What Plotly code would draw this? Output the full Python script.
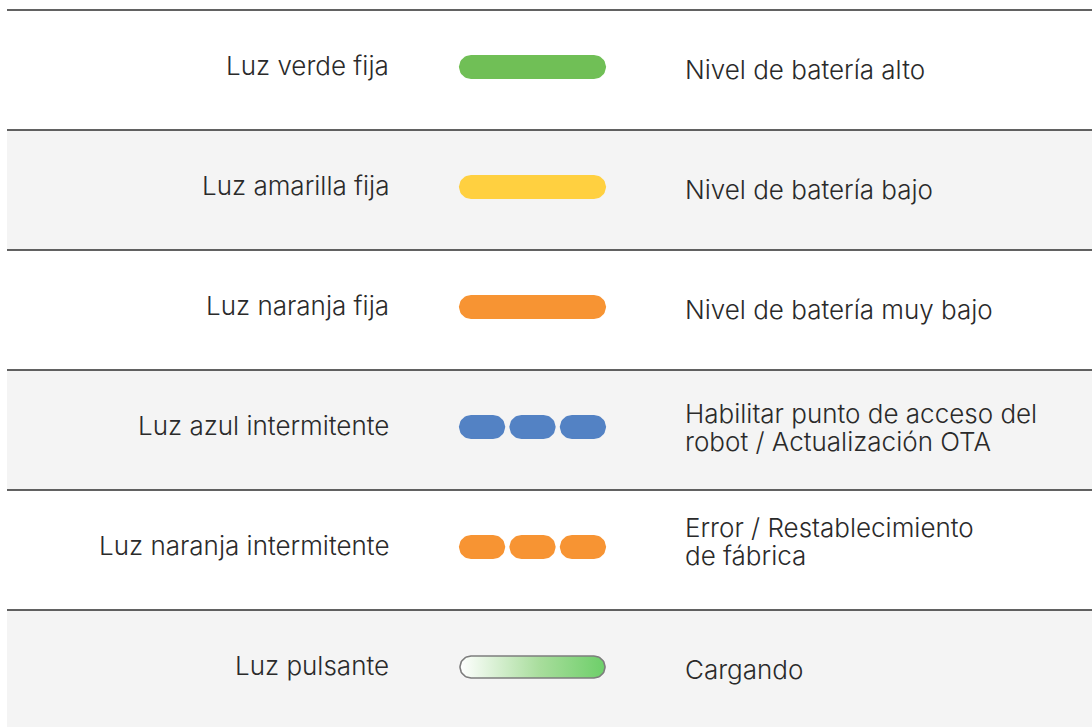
import numpy as np
import plotly.graph_objects as go

# ---- data ----
left_labels = ["Luz verde fija", "Luz amarilla fija", "Luz naranja fija",
               "Luz azul intermitente", "Luz naranja intermitente", "Luz pulsante"]
right_labels = ["Nivel de batería alto", "Nivel de batería bajo", "Nivel de batería muy bajo",
                "Habilitar punto de acceso del<br>robot / Actualización OTA",
                "Error / Restablecimiento<br>de fábrica", "Cargando"]
light_colors = ["#70bf56", "#ffd040", "#f79433", "#5382c4", "#f79433", "#6dcf69"]
light_modes = ["fija", "fija", "fija", "intermitente", "intermitente", "pulsante"]

# ---- geometry (screen pixels) ----
W, H = 1092, 727
LINE_X0 = 7
TOP = 10          # first divider
ROW_H = 120
BAR_X0, BAR_X1 = 459, 606
BAR_H = 24
GAP = 4.3
TEXT_L_X = 391
TEXT_R_X = 683
LINE_SP = 28
FONT = "Inter, Roboto, sans-serif"
FSIZE = 26
TXT = "#2a2a2a"

n = len(left_labels)
PX = 1.0 / ROW_H  # one pixel in y units
y_top = -TOP * PX
y_bot = (H - TOP) * PX


def stadium(x0, x1, yc, r_px):
    r_y = r_px * PX
    a1 = np.linspace(-np.pi / 2, np.pi / 2, 24)
    xs_r = (x1 - r_px) + r_px * np.cos(a1)
    ys_r = yc + r_y * np.sin(a1)
    a2 = np.linspace(np.pi / 2, 3 * np.pi / 2, 24)
    xs_l = (x0 + r_px) + r_px * np.cos(a2)
    ys_l = yc + r_y * np.sin(a2)
    xs = np.concatenate([xs_r, xs_l, xs_r[:1]])
    ys = np.concatenate([ys_r, ys_l, ys_r[:1]])
    return xs, ys


fig = go.Figure()
shapes = []
annotations = []
font = dict(family=FONT, size=FSIZE, color=TXT, weight=300)

for i in range(n):
    if i % 2 == 1:
        y1 = i + 1 if i < n - 1 else y_bot
        shapes.append(dict(type="rect", xref="x", yref="y", x0=LINE_X0, x1=W,
                           y0=i, y1=y1, fillcolor="#f4f4f4", line_width=0, layer="below"))
    shapes.append(dict(type="line", xref="x", yref="y", x0=LINE_X0, x1=W, y0=i, y1=i,
                       line=dict(color="#2e2e2e", width=1.3)))

    yc = i + 0.5 - 3 * PX
    mode = light_modes[i]
    col = light_colors[i]
    if mode == "fija":
        xs, ys = stadium(BAR_X0, BAR_X1, yc, BAR_H / 2)
        fig.add_trace(go.Scatter(x=xs, y=ys, mode="lines", fill="toself", fillcolor=col,
                                 line=dict(width=0, color=col), hoverinfo="skip", showlegend=False))
    elif mode == "intermitente":
        seg = (BAR_X1 - BAR_X0 - 2 * GAP) / 3
        for k in range(3):
            sx0 = BAR_X0 + k * (seg + GAP)
            xs, ys = stadium(sx0, sx0 + seg, yc, BAR_H / 2)
            fig.add_trace(go.Scatter(x=xs, y=ys, mode="lines", fill="toself", fillcolor=col,
                                     line=dict(width=0, color=col), hoverinfo="skip",
                                     showlegend=False))
    else:
        xs, ys = stadium(BAR_X0 + 1, BAR_X1 - 1, yc, (BAR_H - 2) / 2)
        fig.add_trace(go.Scatter(x=xs, y=ys, mode="lines", fill="toself",
                                 fillgradient=dict(type="horizontal",
                                                   colorscale=[[0, "#ffffff"], [0.55, "#a8dd9c"],
                                                               [1, col]]),
                                 line=dict(width=1.6, color="#7d7d7d"), hoverinfo="skip",
                                 showlegend=False))

    annotations.append(dict(x=TEXT_L_X, y=i + 0.5 - 5 * PX, xref="x", yref="y",
                            text=left_labels[i], showarrow=False, xanchor="right",
                            yanchor="middle", font=font))
    lines = right_labels[i].split("<br>")
    base = i + 0.5 - (1 * PX if len(lines) == 1 else 3 * PX)
    if i == 4:
        base -= 6 * PX
    for j, ln in enumerate(lines):
        yy = base + (j - (len(lines) - 1) / 2) * LINE_SP * PX
        annotations.append(dict(x=TEXT_R_X, y=yy, xref="x", yref="y",
                                text=ln, showarrow=False, xanchor="left",
                                yanchor="middle", align="left", font=font))

fig.update_layout(
    width=W, height=H, margin=dict(l=0, r=0, t=0, b=0),
    paper_bgcolor="white", plot_bgcolor="white",
    xaxis=dict(range=[0, W], visible=False, fixedrange=True),
    yaxis=dict(range=[y_bot, y_top], visible=False, fixedrange=True),
    shapes=shapes, annotations=annotations,
)

fig.write_html("out.html", config={"displayModeBar": False},
               post_script="document.body.style.margin='0';document.body.style.overflow='hidden';")
